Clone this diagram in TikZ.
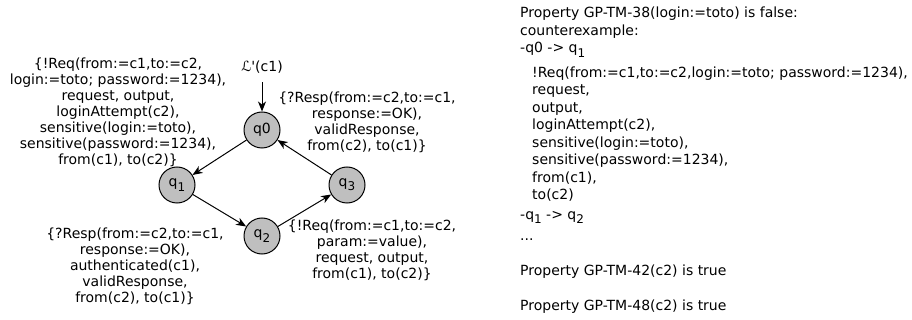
\documentclass[tikz,border=0pt]{standalone}
\usepackage{fontspec}
\setmainfont{DejaVu Sans}
\usetikzlibrary{arrows.meta,positioning}
% lowered index for state names
\newcommand{\qsub}[1]{\raisebox{-0.3em}{\fontsize{12}{12}\selectfont #1}}

\begin{document}
\begin{tikzpicture}[x=1pt, y=-1pt,
  state/.style={circle, draw, line width=1pt, fill=gray!50, minimum size=36pt, inner sep=0pt, font=\fontsize{14}{16}\selectfont},
  trans/.style={-{Stealth[length=10pt,width=8pt,inset=3pt]}, line width=1pt},
  lbl/.style={align=center, inner sep=0pt, font=\fontsize{14}{16}\selectfont}]
  \useasboundingbox (0,0) rectangle (912,320);
  % states
  \node[state] (q0) at (262,130) {q0};
  \node[state] (q1) at (177,185) {q\qsub{1}};
  \node[state] (q2) at (262,236) {q\qsub{2}};
  \node[state] (q3) at (347,185) {q\qsub{3}};
  % initial state
  \node[lbl, inner sep=5pt] (init) at (262,67) {ℒ\textquotesingle(c1)};
  \draw[trans, shorten <=4pt] (init) -- (q0);
  % transitions
  \draw[trans] (q0) -- (q1);
  \draw[trans] (q1) -- (q2);
  \draw[trans] (q2) -- (q3);
  \draw[trans] (q3) -- (q0);
  % transition labels
  \node[lbl] (l01) at (118,112.5) {\{!Req(from:=c1,to:=c2,\\ login:=toto; password:=1234),\\ request, output,\\ loginAttempt(c2),\\ sensitive(login:=toto),\\ sensitive(password:=1234),\\ from(c1), to(c2)\}};
  \node[lbl] (l30) at (367,122.5) {\{?Resp(from:=c2,to:=c1,\\ response:=OK),\\ validResponse,\\ from(c2), to(c1)\}};
  \node[lbl] (l12) at (135,266) {\{?Resp(from:=c2,to:=c1,\\ response:=OK),\\ authenticated(c1),\\ validResponse,\\ from(c2), to(c1)\}};
  \node[lbl] (l23) at (372,250) {\{!Req(from:=c1,to:=c2,\\ param:=value),\\ request, output,\\ from(c1), to(c2)\}};
  % model checker output
  \node[anchor=north west, align=left, inner sep=0pt, font=\fontsize{14}{17.5}\selectfont] (cex) at (520,7)
    {Property GP-TM-38(login:=toto) is false:\\
     counterexample:\\
     -q0 -> q\qsub{1}\\[7pt]
     \hspace*{12pt}!Req(from:=c1,to:=c2,login:=toto; password:=1234),\\
     \hspace*{12pt}request,\\
     \hspace*{12pt}output,\\
     \hspace*{12pt}loginAttempt(c2),\\
     \hspace*{12pt}sensitive(login:=toto),\\
     \hspace*{12pt}sensitive(password:=1234),\\
     \hspace*{12pt}from(c1),\\
     \hspace*{12pt}to(c2)\\[2pt]
     -q\qsub{1} -> q\qsub{2}\\[4pt]
     ...\\[17.5pt]
     Property GP-TM-42(c2) is true\\[17.5pt]
     Property GP-TM-48(c2) is true};
\end{tikzpicture}
\end{document}
